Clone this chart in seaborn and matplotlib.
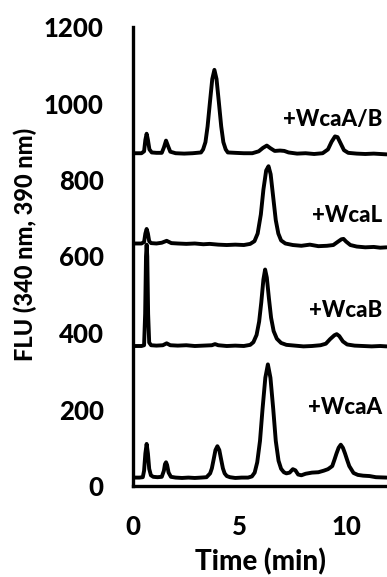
import matplotlib
matplotlib.use("Agg")
import matplotlib.pyplot as plt
import numpy as np
import pandas as pd
import seaborn as sns

# Fluorescence chromatograms (ex 340 nm / em 390 nm), one trace per reaction.
samples = ["+WcaA", "+WcaB", "+WcaL", "+WcaA/B"]

wcaA_time = [0.00, 0.30, 0.46, 0.52, 0.58, 0.64, 0.70, 0.76, 0.84, 0.95, 1.15, 1.35,
             1.45, 1.50, 1.55, 1.60, 1.67, 1.78, 2.00, 2.30, 2.60, 2.90, 3.20, 3.45,
             3.62, 3.70, 3.79, 3.87, 3.96, 4.05, 4.13, 4.22, 4.30, 4.40, 4.55, 4.80,
             5.10, 5.40, 5.58, 5.71, 5.83, 5.96, 6.08, 6.21, 6.33, 6.45, 6.58, 6.70,
             6.83, 6.95, 7.08, 7.20, 7.35, 7.50, 7.62, 7.75, 7.90, 8.10, 8.40, 8.70,
             8.95, 9.15, 9.35, 9.45, 9.55, 9.65, 9.75, 9.85, 9.95, 10.05, 10.15, 10.35,
             10.55, 10.80, 11.10, 11.40, 11.90]
wcaA_flu = [22, 22, 23, 40, 85, 110, 85, 45, 28, 24, 23, 24,
            40, 57, 62, 55, 35, 24, 22, 21, 22, 21, 22, 23,
            33, 46, 71, 94, 104, 94, 71, 46, 33, 26, 23, 21,
            22, 22, 25, 35, 62, 118, 202, 283, 318, 283, 202, 118,
            66, 45, 36, 33, 35, 44, 41, 30, 28, 32, 35, 36,
            40, 44, 52, 68, 85, 100, 108, 100, 85, 68, 52, 34,
            29, 27, 26, 23, 22]

wcaB_time = [0.00, 0.40, 0.52, 0.57, 0.61, 0.64, 0.67, 0.71, 0.76, 0.85, 1.10, 1.40,
             1.58, 1.75, 2.10, 2.50, 2.90, 3.30, 3.70, 3.85, 4.00, 4.40, 4.80, 5.20,
             5.50, 5.65, 5.80, 5.92, 6.02, 6.12, 6.20, 6.28, 6.38, 6.48, 6.60, 6.75,
             6.95, 7.20, 7.60, 8.00, 8.40, 8.80, 9.05, 9.25, 9.45, 9.56, 9.68, 9.85,
             10.05, 10.40, 10.80, 11.20, 11.60, 11.90]
wcaB_flu = [366, 366, 368, 450, 600, 631, 600, 450, 375, 368, 367, 368,
            373, 368, 367, 368, 366, 367, 368, 371, 368, 366, 367, 366,
            369, 376, 395, 430, 480, 540, 566, 545, 490, 440, 405, 385,
            374, 369, 367, 365, 366, 368, 372, 384, 394, 397, 392, 378,
            370, 367, 366, 365, 366, 365]

wcaL_time = [0.00, 0.40, 0.52, 0.58, 0.64, 0.70, 0.76, 0.85, 1.10, 1.35, 1.58, 1.80,
             2.10, 2.50, 2.90, 3.30, 3.60, 4.00, 4.40, 4.80, 5.20, 5.50, 5.70, 5.85,
             6.00, 6.12, 6.25, 6.36, 6.46, 6.58, 6.70, 6.82, 6.95, 7.15, 7.50, 7.90,
             8.30, 8.70, 9.10, 9.40, 9.60, 9.78, 9.88, 10.00, 10.20, 10.50, 10.90, 11.30,
             11.60, 11.90]
wcaL_flu = [634, 634, 638, 660, 672, 660, 640, 635, 634, 636, 641, 635,
            634, 633, 634, 632, 633, 631, 630, 631, 630, 633, 640, 660,
            710, 775, 825, 836, 815, 755, 695, 660, 642, 634, 630, 628,
            631, 627, 628, 630, 638, 645, 646, 639, 630, 626, 624, 625,
            623, 624]

wcaAB_time = [0.00, 0.40, 0.52, 0.58, 0.64, 0.70, 0.77, 0.88, 1.10, 1.35, 1.45, 1.55,
              1.65, 1.75, 2.00, 2.40, 2.80, 3.19, 3.29, 3.40, 3.50, 3.61, 3.72, 3.82,
              3.92, 4.03, 4.14, 4.24, 4.35, 4.45, 4.80, 5.20, 5.60, 5.90, 6.10, 6.28,
              6.45, 6.65, 6.90, 7.10, 7.30, 7.70, 8.10, 8.50, 8.90, 9.15, 9.32, 9.48,
              9.60, 9.75, 9.90, 10.10, 10.50, 10.90, 11.30, 11.90]
wcaAB_flu = [870, 870, 875, 905, 921, 905, 880, 872, 871, 871, 885, 903,
             888, 874, 870, 869, 870, 872, 880, 899, 940, 1003, 1064, 1088,
             1064, 1003, 940, 899, 880, 872, 871, 870, 870, 875, 884, 890,
             883, 876, 877, 876, 872, 869, 870, 868, 870, 880, 900, 914,
             912, 895, 878, 871, 869, 868, 869, 867]

y_ticks = [0, 200, 400, 600, 800, 1000, 1200]
x_ticks = [0, 5, 10]

# Trace name labels: right edge x and vertical centre, in data units
label_x = [11.68, 11.68, 11.68, 11.68]
label_y = [204, 460, 708, 957]

traces = pd.concat([
    pd.DataFrame({"time": t, "flu": f, "sample": s})
    for s, t, f in zip(samples,
                       [wcaA_time, wcaB_time, wcaL_time, wcaAB_time],
                       [wcaA_flu, wcaB_flu, wcaL_flu, wcaAB_flu])
], ignore_index=True)

sns.set_theme(style="white")
plt.rcParams["font.family"] = ["Lato", "DejaVu Sans"]
W = 900  # heavy weight for all text

fig = plt.figure(figsize=(3.87, 5.77), dpi=100)
ax = fig.add_axes([133 / 387, 91 / 577, 254 / 387, 459 / 577])

sns.lineplot(data=traces, x="time", y="flu", units="sample", estimator=None,
             sort=False, color="black", linewidth=2.8, ax=ax, legend=False)
for line in ax.get_lines():
    line.set_solid_joinstyle("round")
    line.set_solid_capstyle("round")

for name, lx, ly in zip(samples, label_x, label_y):
    ax.text(lx, ly, name, ha="right", va="center", fontsize=16,
            fontweight=W, color="black")

ax.set_xlim(0, 11.92)
ax.set_ylim(0, 1200)
ax.set_xticks(x_ticks)
ax.set_yticks(y_ticks)
ax.tick_params(axis="both", length=0, labelsize=18.5, colors="black")
ax.tick_params(axis="y", pad=21)
ax.tick_params(axis="x", pad=21)
for lab in ax.get_xticklabels() + ax.get_yticklabels():
    lab.set_fontweight(W)

for side in ["top", "right"]:
    ax.spines[side].set_visible(False)
for side in ["left", "bottom"]:
    ax.spines[side].set_color("black")
    ax.spines[side].set_linewidth(2.4)

ax.set_xlabel("Time (min)", fontsize=20, fontweight=W, color="black")
ax.set_ylabel("FLU (340 nm, 390 nm)", fontsize=17, fontweight=W, color="black")
ax.xaxis.label.set_va("center")
ax.yaxis.label.set_va("center")
ax.xaxis.set_label_coords(0.5, -0.165)
ax.yaxis.set_label_coords(-0.423, 0.527)

fig.savefig("out.png", dpi=100)
